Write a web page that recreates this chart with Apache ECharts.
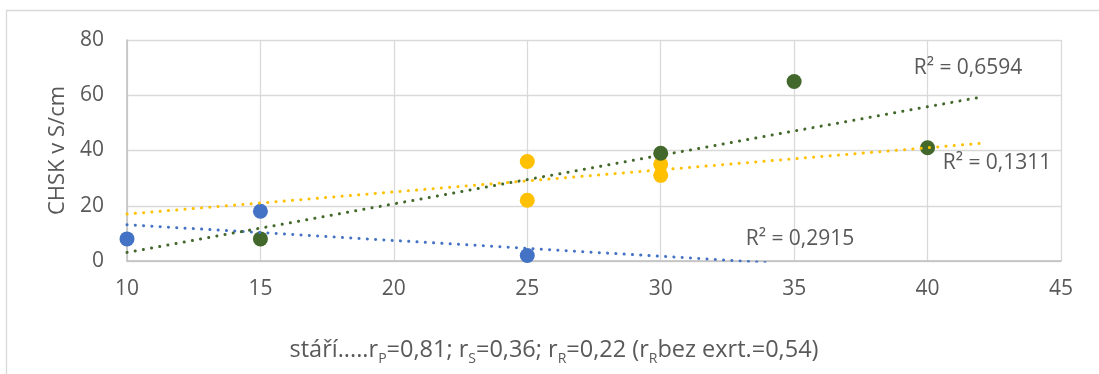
<!DOCTYPE html>
<html>
<head>
<meta charset="utf-8">
<script src="https://cdn.jsdelivr.net/npm/echarts@6/dist/echarts.min.js"></script>
<style>html,body{margin:0;padding:0;background:#fff;}#c{width:1099px;height:374px;}</style>
</head>
<body>
<div id="c"></div>
<script>
// ---- data ----
var xTicks = [10, 15, 20, 25, 30, 35, 40, 45];
var yTicks = [0, 20, 40, 60, 80];
var bluePoints   = [[10, 8], [15, 18], [25, 2]];
var yellowPoints = [[25, 36], [25, 22], [30, 35], [30, 31]];
var greenPoints  = [[15, 8], [30, 39], [35, 65], [40, 41]];
var blueTrend   = [[10, 13.14], [34, -0.57]];
var yellowTrend = [[10, 17.0], [42, 42.6]];
var greenTrend  = [[10, 3.11], [42, 59.34]];
var r2Labels = ['R² = 0,2915', 'R² = 0,1311', 'R² = 0,6594'];
var yAxisTitle = 'CHSK v S/cm';

var FONT = 'Open Sans';
var TXT = '#595959';
var BLUE = '#4472C4', YELLOW = '#FFC000', GREEN = '#43682B';

function trendSeries(data, color) {
  return {
    type: 'line', data: data, symbol: 'none', z: 5, clip: true, silent: true,
    lineStyle: { color: color, width: 3, type: [0.1, 8.2], cap: 'round' }
  };
}
function pointSeries(data, color) {
  return {
    type: 'scatter', data: data, symbolSize: 15, z: 3, silent: true,
    itemStyle: { color: color, opacity: 1 }
  };
}
function r2(text, x, y) {
  return { type: 'text', x: x, y: y, z: 20,
    style: { text: text, fill: TXT, fontFamily: FONT, fontSize: 21, align: 'center', verticalAlign: 'middle' } };
}

var chart = echarts.init(document.getElementById('c'), null, { renderer: 'canvas' });
chart.setOption({
  animation: false,
  backgroundColor: '#fff',
  grid: { left: 127, right: 38, top: 40, bottom: 113, containLabel: false },
  xAxis: {
    type: 'value', min: xTicks[0], max: xTicks[xTicks.length - 1], interval: 5,
    axisLine: { show: true, onZero: false, lineStyle: { color: '#BFBFBF', width: 1.5 } },
    axisTick: { show: false },
    axisLabel: { color: TXT, fontFamily: FONT, fontSize: 21, margin: 18 },
    splitLine: { show: true, lineStyle: { color: '#D9D9D9', width: 1.3 } }
  },
  yAxis: {
    type: 'value', min: yTicks[0], max: yTicks[yTicks.length - 1], interval: 20,
    name: yAxisTitle, nameLocation: 'middle', nameGap: 58, nameRotate: 90,
    nameTextStyle: { color: TXT, fontFamily: FONT, fontSize: 22 },
    axisLine: { show: true, lineStyle: { color: '#BFBFBF', width: 1.5 } },
    axisTick: { show: false },
    axisLabel: { color: TXT, fontFamily: FONT, fontSize: 21, margin: 23 },
    splitLine: { show: true, lineStyle: { color: '#D9D9D9', width: 1.3 } }
  },
  series: [
    pointSeries(bluePoints, BLUE),
    pointSeries(yellowPoints, YELLOW),
    pointSeries(greenPoints, GREEN),
    trendSeries(blueTrend, BLUE),
    trendSeries(yellowTrend, YELLOW),
    trendSeries(greenTrend, GREEN)
  ],
  graphic: [
    { type: 'rect', shape: { x: 6.5, y: 10.5, width: 1200, height: 500 }, silent: true, z: -10,
      style: { fill: null, stroke: '#D9D9D9', lineWidth: 1.3 } },
    r2(r2Labels[0], 800, 239),
    r2(r2Labels[1], 997, 163),
    r2(r2Labels[2], 968, 68),
    { type: 'text', x: 554, y: 350, z: 20,
      style: {
        text: 'stáří.....r{s|P}=0,81; r{s|S}=0,36; r{s|R}=0,22 (r{s|R}bez exrt.=0,54)',
        fill: TXT, fontFamily: FONT, fontSize: 23.5, lineHeight: 32,
        align: 'center', verticalAlign: 'middle',
        rich: { s: { fontFamily: FONT, fontSize: 14, fill: TXT, lineHeight: 14, verticalAlign: 'bottom' } }
      } }
  ]
});
</script>
</body>
</html>
